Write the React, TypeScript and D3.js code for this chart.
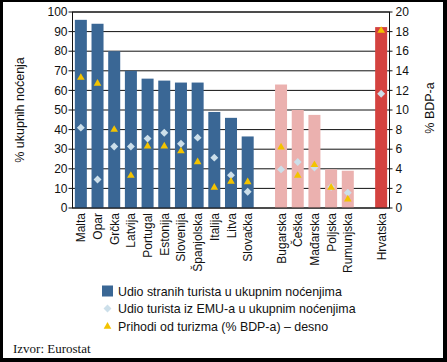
import React from "react";
import * as d3 from "d3";

const categories = ["Malta","Opar","Grčka","Latvija","Portugal","Estonija","Slovenija","Španjolska","Italija","Litva","Slovačka","Bugarska","Češka","Mađarska","Poljska","Rumunjska","Hrvatska"];
const groups = ["euro","euro","euro","euro","euro","euro","euro","euro","euro","euro","euro","non","non","non","non","non","hr"];
const foreignShare = [96,94,80,70,66,65,64,64,49,46,36.5,63,50,47.5,19.7,19,92.3];
const emuShare = [41,14.5,31.4,31.4,35.4,38.4,32.8,35.9,25.7,16.7,8.3,19.7,23.5,20.6,10.7,7.8,58.3];
const tourismGdp = [13.3,12.7,8.0,3.3,6.3,6.3,5.8,4.7,2.1,2.7,2.65,6.2,3.3,4.4,2.1,0.9,18.1];
const leftTicks = [0,10,20,30,40,50,60,70,80,90,100];
const rightTicks = [0,2,4,6,8,10,12,14,16,18,20];
const legendLabels = ["Udio stranih turista u ukupnim noćenjima","Udio turista iz EMU-a u ukupnim noćenjima","Prihodi od turizma (% BDP-a) – desno"];

const colors: Record<string, string> = { euro: "#3A6795", non: "#EBB1AF", hr: "#D4423F" };
const diamondColor = "#CCDFEA";
const triColor = "#F3C300";
const font = "'Liberation Sans', Arial, sans-serif";

export default function App() {
  const W = 447, H = 362;
  const m = { left: 72.5, right: 389.5, top: 12, bottom: 208 };
  const domain = [...categories.slice(0, 11), "_g1", ...categories.slice(11, 16), "_g2", categories[16]];
  const x = d3.scaleBand<string>().domain(domain).range([m.left, m.right]).paddingInner(0.28).paddingOuter(0.14);
  const yL = d3.scaleLinear().domain([0, 100]).range([m.bottom, m.top]);
  const yR = d3.scaleLinear().domain([0, 20]).range([m.bottom, m.top]);
  const bw = x.bandwidth();
  const diamond = d3.symbol().type(d3.symbolDiamond2).size(40)()!;
  const tri = d3.symbol().type(d3.symbolTriangle2).size(42)()!;

  return (
    <div style={{ position: "absolute", left: 0, top: 0 }}>
      <svg width={W} height={H} style={{ display: "block" }} fontFamily={font}>
        <rect x={0} y={0} width={W} height={H} fill="#000" />
        <rect x={3} y={2} width={W - 7} height={H - 6} fill="#fff" />
        {leftTicks.map((t) => (
          <g key={"g" + t}>
            <line x1={m.left - 4} x2={m.right} y1={yL(t)} y2={yL(t)} stroke="#111" strokeWidth={1} />
            <line x1={m.right} x2={m.right + 3} y1={yL(t)} y2={yL(t)} stroke="#111" strokeWidth={1} />
            <text x={m.left - 5} y={yL(t)} dy="0.35em" textAnchor="end" fontSize={12} fill="#111">{t}</text>
          </g>
        ))}
        {rightTicks.map((t) => (
          <text key={"r" + t} x={m.right + 6} y={yR(t)} dy="0.35em" textAnchor="start" fontSize={12} fill="#111">{t}</text>
        ))}
        {categories.map((c, i) => (
          <rect key={"b" + c} x={x(c)!} y={yL(foreignShare[i])} width={bw} height={yL(0) - yL(foreignShare[i])} fill={colors[groups[i]]} />
        ))}
        <rect x={m.left} y={m.top} width={m.right - m.left} height={m.bottom - m.top} fill="none" stroke="#111" strokeWidth={1} />
        {categories.map((c, i) => (
          <path key={"d" + c} d={diamond} transform={`translate(${x(c)! + bw / 2},${yL(emuShare[i])})`} fill={diamondColor} />
        ))}
        {categories.map((c, i) => (
          <path key={"t" + c} d={tri} transform={`translate(${x(c)! + bw / 2},${yR(tourismGdp[i])})`} fill={triColor} />
        ))}
        {categories.map((c) => (
          <text key={"l" + c} transform={`translate(${x(c)! + bw / 2 + 4.5},${m.bottom + 5}) rotate(-90)`} textAnchor="end" fontSize={12} fill="#111">{c}</text>
        ))}
        <text transform={`translate(24,110) rotate(-90)`} textAnchor="middle" fontSize={12.5} fill="#111">% ukupnih noćenja</text>
        <text transform={`translate(434,108) rotate(-90)`} textAnchor="middle" fontSize={12.5} fill="#111">% BDP-a</text>
        <rect x={102} y={285.5} width={11} height={11} fill={colors.euro} />
        <path d={diamond} transform="translate(107.5,308.5)" fill={diamondColor} />
        <path d={tri} transform="translate(107.5,326.5)" fill={triColor} />
        {legendLabels.map((l, i) => (
          <text key={"lg" + i} x={118} y={295.5 + i * 17.8} fontSize={12.4} fill="#111">{l}</text>
        ))}
        <text x={13} y={353} fontFamily="'Liberation Serif', 'Times New Roman', serif" fontSize={13} fill="#111">Izvor: Eurostat</text>
      </svg>
    </div>
  );
}
